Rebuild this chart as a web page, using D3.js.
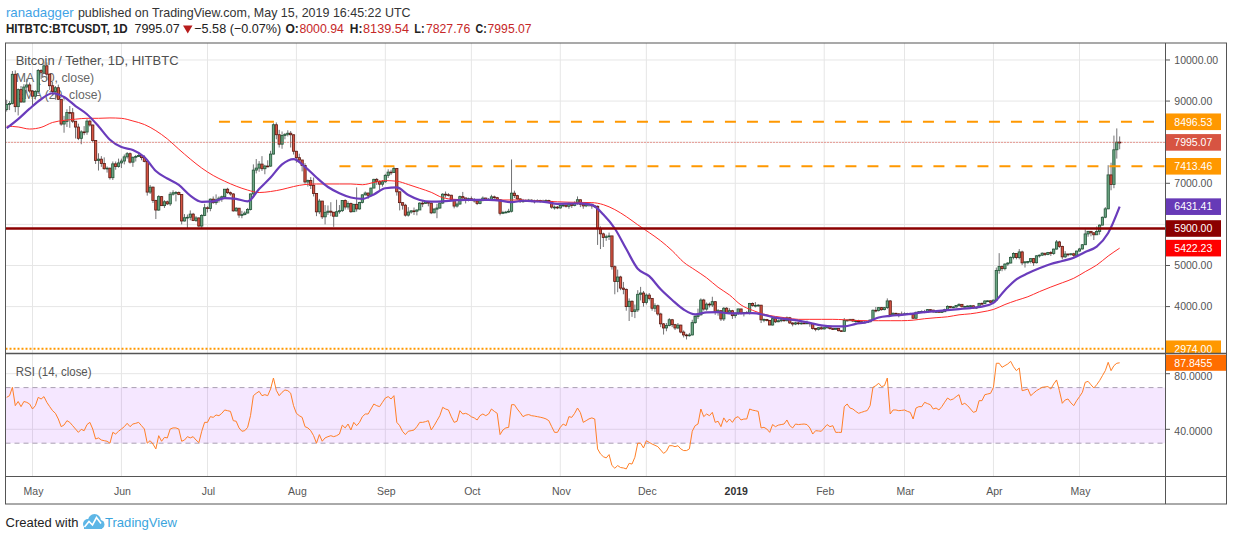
<!DOCTYPE html>
<html>
<head>
  <meta charset="utf-8">
  <title>Bitcoin / Tether, 1D, HITBTC</title>
  <script type="text/javascript" src="https://d3js.org/d3.v7.min.js"></script>
  <style>
    body { margin: 0; background: #ffffff; }
    svg { display: block; font-family: "Liberation Sans", Arial, sans-serif; }
  </style>
</head>

<body>
  <script>
    // ---- values ----
    var startDay = "2018-04-22";
    var firstOpen = 8795;

    // daily closes, 2018-04-22 .. 2019-05-15 (open of a day = close of the day before)
    var closes = [
      8917, 8940, 9652, 8864, 9279, 8978, 9342, 9392, 9244,
      9119, 9235, 9743, 9700, 9858, 9654, 9373, 9234, 9325, 9043, 8441, 8504, 8723, 8716, 8510, 8368, 8094, 8250, 8247, 8513, 8418, 8041, 7557, 7587, 7480, 7355, 7368, 7136, 7473, 7406, 7495,
      7541, 7643, 7720, 7514, 7633, 7653, 7678, 7624, 7531, 6786, 6906, 6582, 6349, 6675, 6456, 6550, 6499, 6734, 6769, 6776, 6729, 6083, 6162, 6173, 6250, 6093, 6157, 5960, 6218, 6404,
      6385, 6614, 6529, 6597, 6639, 6673, 6856, 6773, 6741, 6329, 6394, 6228, 6238, 6276, 6360, 6741, 7321, 7370, 7467, 7354, 7419, 7418, 7711, 8424, 8181, 7951, 8165, 8192, 8218, 8180, 7780,
      7624, 7567, 7434, 7032, 7069, 6951, 6753, 6305, 6568, 6184, 6295, 6322, 6297, 6199, 6308, 6334, 6580, 6423, 6506, 6308, 6488, 6376, 6534, 6719, 6763, 6707, 6884, 7096, 7047, 6978, 7037,
      7193, 7272, 7260, 7361, 6792, 6529, 6467, 6225, 6300, 6329, 6321, 6351, 6517, 6512, 6543, 6517, 6281, 6371, 6398, 6519, 6734, 6721, 6710, 6595, 6446, 6495, 6676, 6644, 6601, 6625,
      6600, 6570, 6510, 6590, 6640, 6600, 6610, 6670, 6650, 6600, 6270, 6290, 6300, 6320, 6760, 6700, 6620, 6560, 6570, 6580, 6590, 6570, 6560, 6580, 6560, 6570, 6580, 6560, 6420, 6420, 6400,
      6460, 6470, 6440, 6500, 6460, 6510, 6600, 6490, 6450, 6480, 6490, 6450, 6440, 5900, 5770, 5680, 5700, 5720, 4970, 4610, 4720, 4450, 4420, 4000, 4130, 3880, 3920, 4300, 4330, 4100,
      4280, 4200, 3960, 4020, 3820, 3580, 3480, 3540, 3680, 3560, 3480, 3550, 3380, 3310, 3290, 3310, 3610, 3760, 3800, 4160, 3940, 4060, 4040, 4120, 3870, 3900, 3700, 3960, 3860, 3900, 3780,
      3843, 3943, 3836, 3857, 3845, 4076, 4025, 4030, 4035, 3678, 3687, 3661, 3552, 3706, 3630, 3655, 3678, 3657, 3728, 3601, 3576, 3604, 3585, 3600, 3599, 3603, 3583, 3470, 3448, 3486, 3457,
      3487, 3521, 3464, 3459, 3466, 3413, 3399, 3666, 3671, 3690, 3648, 3653, 3632, 3616, 3621, 3630, 3674, 3911, 3905, 3975, 3926, 3975, 4138, 3800, 3837, 3823, 3818, 3813,
      3824, 3833, 3807, 3717, 3861, 3876, 3883, 3868, 3926, 3915, 3873, 3880, 3875, 3875, 3923, 4006, 3982, 3992, 4028, 4055, 3996, 4005, 4015, 4020, 3964, 3985, 4079, 4077, 4138, 4140, 4105,
      4158, 4880, 4974, 4923, 5036, 5060, 5198, 5290, 5192, 5330, 5064, 5089, 5096, 5167, 5067, 5235, 5251, 5299, 5269, 5314, 5292, 5399, 5573, 5465, 5210, 5279, 5268, 5285, 5248, 5351,
      5402, 5505, 5768, 5831, 5795, 5747, 5830, 5982, 6174, 6378, 7204, 6972, 7815, 8001, 7995.07
    ];

    var highs = [
      9032, 9000, 9732, 9745, 9307, 9367, 9411, 9544, 9450,
      9255, 9267, 9780, 9775, 9964, 9941, 9653, 9470, 9365, 9400, 9043, 8640, 8800, 8880, 8829, 8510, 8450, 8290, 8390, 8560, 8550, 8430, 8040, 7730, 7660, 7630, 7410, 7380, 7530, 7530, 7600,
      7600, 7700, 7760, 7750, 7650, 7690, 7750, 7690, 7680, 7530, 6960, 6920, 6600, 6710, 6690, 6590, 6580, 6790, 6830, 6810, 6800, 6730, 6250, 6240, 6340, 6280, 6200, 6170, 6250, 6500,
      6440, 6630, 6680, 6730, 6680, 6700, 6860, 6890, 6800, 6760, 6420, 6400, 6330, 6320, 6400, 6750, 7460, 7590, 7540, 7660, 7450, 7560, 7790, 8460, 8480, 8300, 8260, 8220, 8290, 8270, 8190,
      7760, 7720, 7560, 7490, 7090, 7150, 7140, 6760, 6620, 6570, 6470, 6460, 6540, 6290, 6600, 6470, 6590, 6610, 6560, 6530, 6500, 6900, 6550, 6730, 6800, 6770, 6890, 7110, 7130, 7070, 7080,
      7230, 7340, 7330, 7400, 7370, 6800, 6520, 6500, 6420, 6350, 6410, 6360, 6540, 6590, 6570, 6540, 6530, 6400, 6500, 6530, 6760, 6800, 6760, 6720, 6590, 6540, 6700, 6790, 6640, 6650,
      6680, 6640, 6590, 6620, 6680, 6650, 6640, 6720, 6700, 6670, 6610, 6330, 6330, 6380, 7580, 6820, 6720, 6640, 6620, 6610, 6620, 6610, 6600, 6610, 6600, 6600, 6610, 6600, 6570, 6460, 6450,
      6480, 6520, 6490, 6540, 6510, 6560, 6680, 6600, 6500, 6510, 6520, 6500, 6470, 6460, 5950, 5800, 5750, 5800, 5720, 5000, 4900, 4750, 4600, 4440, 4200, 4150, 4050, 4400, 4480, 4380,
      4320, 4330, 4200, 4080, 4050, 3850, 3600, 3600, 3720, 3700, 3580, 3600, 3560, 3420, 3340, 3360, 3680, 3800, 3950, 4200, 4190, 4100, 4100, 4240, 4130, 3940, 3910, 3990, 3990, 3960, 3920,
      3850, 3950, 3945, 3870, 3890, 4090, 4100, 4110, 4060, 4040, 3710, 3700, 3670, 3720, 3730, 3690, 3700, 3690, 3760, 3750, 3620, 3630, 3630, 3620, 3620, 3660, 3620, 3580, 3480, 3500, 3520,
      3500, 3530, 3525, 3480, 3480, 3470, 3420, 3720, 3690, 3700, 3700, 3680, 3680, 3640, 3650, 3650, 3680, 3930, 3990, 3990, 3990, 3990, 4200, 4160, 3860, 3850, 3840, 3880,
      3860, 3850, 3850, 3830, 3880, 3890, 3910, 3920, 3940, 3930, 3920, 3900, 3890, 3910, 3950, 4030, 4010, 4010, 4040, 4080, 4060, 4020, 4030, 4040, 4030, 3990, 4090, 4100, 4150, 4160, 4150,
      4170, 4950, 5300, 5000, 5050, 5080, 5220, 5320, 5290, 5400, 5360, 5100, 5110, 5180, 5180, 5250, 5270, 5320, 5300, 5330, 5350, 5410, 5620, 5600, 5480, 5350, 5290, 5300, 5310, 5360,
      5430, 5520, 5880, 5840, 5840, 5810, 5950, 6000, 6190, 6420, 7440, 7500, 8160, 8335, 8139.54
    ];

    var lows = [
      8745, 8780, 8920, 8730, 8651, 8960, 8962, 9200, 9190,
      8891, 9037, 9178, 9533, 9700, 9508, 9270, 9142, 9034, 9028, 8400, 8230, 8370, 8350, 8465, 8090, 8050, 7950, 8170, 8180, 8380, 8000, 7470, 7310, 7400, 7330, 7260, 7090, 7080, 7330, 7380,
      7370, 7460, 7600, 7480, 7400, 7530, 7640, 7560, 7510, 6700, 6740, 6520, 6130, 6330, 6450, 6400, 6470, 6450, 6700, 6560, 6710, 6000, 6070, 5900, 6100, 6080, 6060, 5930, 5900, 6200,
      6290, 6320, 6500, 6480, 6530, 6550, 6640, 6740, 6700, 6310, 6310, 6160, 6150, 6220, 6270, 6340, 6680, 7240, 7280, 7300, 7220, 7390, 7400, 7700, 8070, 7870, 7840, 8070, 8140, 7870, 7700,
      7500, 7520, 7290, 6990, 6920, 6860, 6680, 6200, 6250, 6130, 6000, 6230, 6200, 5940, 6200, 6260, 6300, 6360, 6360, 6280, 6310, 6310, 6360, 6510, 6700, 6620, 6680, 6880, 6960, 6790, 6920,
      7010, 7130, 7200, 7250, 6700, 6340, 6360, 6190, 6190, 6260, 6230, 6220, 6350, 6420, 6500, 6440, 6250, 6270, 6150, 6380, 6500, 6650, 6680, 6580, 6390, 6410, 6480, 6620, 6510, 6560,
      6570, 6530, 6470, 6490, 6560, 6580, 6570, 6590, 6620, 6570, 6220, 6250, 6270, 6280, 6290, 6640, 6590, 6520, 6530, 6550, 6550, 6540, 6510, 6540, 6530, 6540, 6550, 6530, 6380, 6360, 6370,
      6380, 6420, 6410, 6380, 6400, 6440, 6480, 6420, 6380, 6420, 6430, 6380, 6400, 5500, 5400, 5450, 5600, 5620, 4900, 4300, 4350, 4400, 4300, 3900, 3650, 3750, 3720, 3870, 4150, 4000,
      4050, 4150, 3900, 3870, 3780, 3500, 3320, 3400, 3520, 3500, 3430, 3450, 3350, 3250, 3200, 3270, 3300, 3580, 3700, 3780, 3900, 3900, 3980, 3990, 3800, 3780, 3650, 3650, 3820, 3820, 3700,
      3720, 3800, 3810, 3760, 3830, 3810, 4000, 3980, 4000, 3600, 3620, 3640, 3550, 3540, 3600, 3620, 3620, 3630, 3640, 3580, 3520, 3550, 3550, 3560, 3580, 3570, 3510, 3440, 3400, 3420, 3440,
      3440, 3460, 3440, 3430, 3450, 3400, 3390, 3390, 3640, 3640, 3630, 3610, 3600, 3580, 3600, 3610, 3620, 3660, 3860, 3880, 3900, 3910, 3940, 3760, 3770, 3790, 3740, 3780,
      3800, 3810, 3790, 3700, 3700, 3840, 3860, 3840, 3860, 3880, 3850, 3850, 3860, 3860, 3870, 3920, 3960, 3960, 3970, 4000, 3980, 3980, 3990, 3990, 3950, 3940, 3980, 4040, 4060, 4110, 4090,
      4090, 4150, 4800, 4860, 4880, 4990, 5050, 5150, 5150, 5150, 5010, 4950, 5040, 5050, 4990, 5050, 5190, 5230, 5230, 5250, 5230, 5260, 5390, 5430, 5150, 5180, 5220, 5240, 5200, 5240,
      5340, 5390, 5500, 5700, 5710, 5620, 5760, 5750, 5980, 6150, 6370, 6830, 6880, 7600, 7827.76
    ];

    // RSI (14, close), one value per session
    var rsi14 = [
      63, 64.2, 70.2, 57, 60, 56.3, 60, 59.4, 58.2, 54.6,
      57, 63, 61.8, 63.5, 59.4, 56.3, 53.4, 51.5, 47.4, 41.9,
      43.1, 46.2, 45, 42.6, 40.2, 37.8, 40, 39, 43.4, 45,
      40.2, 33, 33.8, 32.3, 31.8, 31.4, 30, 37.8, 36.6, 38.6,
      40.2, 41.9, 44.3, 41.9, 43.8, 44.3, 45, 42.6, 40.2, 30,
      31.8, 29.4, 25.9, 35.4, 31.4, 34.2, 33.8, 40.2, 41, 41,
      40.2, 31.4, 32.3, 34.7, 33.8, 34.7, 32.3, 30.4, 38.6, 45,
      45, 49.1, 48.6, 50.3, 49.8, 51.5, 53.9, 53.4, 52.9, 46.2,
      45.8, 41, 38.6, 39, 41.4, 49.8, 64.2, 65.9, 67.3, 64.2,
      64.9, 64.2, 69, 76.9, 68, 64.2, 66.6, 68.3, 67.8, 66,
      57, 51.5, 49.8, 48.6, 41.9, 41, 39, 35.4, 30, 36.2,
      31.4, 33.8, 34.7, 35.4, 34.7, 35.4, 36.6, 43, 41, 43.8,
      39.5, 45, 42.6, 45, 49.1, 51, 51, 54.6, 58.2, 57,
      56.3, 59.4, 62.5, 63.5, 61.8, 64.2, 45, 42.6, 38.5, 36.2,
      38.6, 39, 39.5, 41.9, 45, 45, 45.5, 46.2, 39.5, 42.6,
      46.2, 49.8, 55.8, 54.6, 53.9, 49, 45, 45.8, 53.4, 51,
      51.5, 50.6, 49, 48.2, 46.7, 49.8, 51, 49.8, 51, 54.6,
      52.9, 51.5, 36.2, 39.5, 41, 41.4, 57.7, 57.7, 54.6, 52,
      49.1, 50.2, 50.6, 49.8, 49.5, 49.1, 48.7, 48.2, 47.5, 46.2,
      41.9, 37.8, 37.8, 41.4, 43.8, 42.6, 49.1, 48.6, 51.5, 55.3,
      52, 45, 46.2, 47.5, 48.2, 47.4, 25.9, 22.3, 20.3, 19.4,
      21.8, 14, 12, 13.9, 12.5, 12.2, 11.5, 15.5, 15, 19.9,
      30, 30, 26.6, 31.8, 30.6, 29.4, 28.5, 27.5, 25.1, 22.7,
      24.2, 28.2, 28.2, 27.5, 28.2, 25.9, 24.7, 24.7, 25.9, 38.6,
      42.6, 43.8, 54.6, 49.1, 51, 49.8, 52.2, 45, 45.8, 41.9,
      48.2, 45, 47.4, 45, 48.2, 49.1, 46.7, 47.4, 47.4, 54.6,
      53.8, 53.4, 52.9, 41, 41.4, 40.2, 37.8, 43.4, 41.9, 43,
      43.4, 43.8, 46.7, 42.6, 41, 43.8, 43.4, 43.6, 43.8, 43.4,
      41, 36.6, 39, 38.8, 38.6, 41, 43.4, 41.9, 42.6, 37.8,
      37.8, 37.8, 56.3, 58.2, 55.3, 54.6, 52.9, 51.5, 52.2, 52.9,
      53.5, 57, 70.2, 71.4, 73.1, 70.7, 71.4, 76.9, 51, 53.9,
      53.9, 53.4, 53.6, 53.9, 52.9, 52.2, 47.4, 55.3, 56.3, 56.3,
      59.4, 58.5, 57.7, 54.6, 55.3, 53.9, 56.3, 59.5, 62.5, 61.1,
      61.8, 63.5, 64.9, 57.7, 58.7, 57, 54.6, 52.2, 52.9, 60.6,
      60.6, 64.9, 65.4, 65.9, 70.2, 87.5, 87.5, 84.6, 85.8, 87,
      88.9, 85, 82.2, 84.1, 67.8, 68.3, 69, 64.2, 66, 67.8,
      69, 70.2, 70.5, 70.7, 69, 72.6, 75.5, 67.8, 58.7, 61.1,
      61.8, 59, 57, 60.6, 63.5, 66.6, 73.8, 74.5, 72, 69.7,
      72.1, 75, 78.6, 82.2, 88.2, 82.2, 85.8, 87.5, 87.8455
    ];

    // moving averages read every 4th session (first = 2018-04-22, last = 2019-05-15)
    var maStep = 4;
    var ema20 = [
      8340, 8560, 8815, 9045, 9190, 9100, 8880, 8680, 8390, 8060,
      7880, 7810, 7640, 7300, 7115, 6960, 6700, 6550, 6560, 6640,
      6620, 6560, 6860, 7140, 7460, 7590, 7400, 7140, 6910, 6760,
      6655, 6620, 6730, 6880, 6900, 6715, 6594, 6553, 6560, 6585,
      6594, 6594, 6594, 6580, 6540, 6575, 6560, 6540, 6500, 6505,
      6513, 6475, 6240, 5900, 5400, 4920, 4740, 4420, 4160, 3930,
      3810, 3860, 3865, 3837, 3837, 3840, 3800, 3730, 3695, 3660,
      3605, 3545, 3520, 3520, 3580, 3625, 3735, 3775, 3800, 3830,
      3865, 3890, 3915, 3940, 3965, 4000, 4090, 4400, 4665, 4810,
      4932, 5036, 5110, 5190, 5330, 5460, 5789, 6431.41
    ];
    var sma50 = [
      8390, 8370, 8320, 8360, 8480, 8530, 8560, 8581, 8581, 8590,
      8580, 8516, 8430, 8280, 8080, 7830, 7590, 7370, 7190, 7050,
      6930, 6835, 6775, 6800, 6850, 6920, 6970, 6983, 6983, 6983,
      6983, 6965, 7020, 7065, 7050, 6970, 6878, 6780, 6650, 6610,
      6600, 6594, 6594, 6594, 6594, 6590, 6575, 6560, 6550, 6540,
      6535, 6530, 6480, 6360, 6190, 5990, 5800, 5600, 5360, 5080,
      4890, 4700, 4470, 4282, 4040, 3910, 3815, 3760, 3722, 3690,
      3690, 3690, 3690, 3680, 3662, 3657, 3657, 3657, 3657, 3670,
      3705, 3730, 3752, 3800, 3825, 3870, 3930, 4050, 4150, 4240,
      4363, 4476, 4580, 4689, 4850, 5010, 5230, 5422.23
    ];

    // horizontal levels drawn by the author (null start = across the whole chart)
    var levelValues = [8496.53, 7413.46, 5900, 2974];
    var levelFrom = ["2018-07-05", "2018-08-16", null, null];

    var priceTicks = [4000, 5000, 6000, 7000, 8000, 9000, 10000];
    var rsiTicks = [40, 80];
    var rsiBand = [30, 70];

    var headerKeys = ["O:", "H:", "L:", "C:"];
    var headerVals = ["8000.94", "8139.54", "7827.76", "7995.07"];

    // ---- layout ----
    var W = 1234, H = 541;
    var L = 5.5, R = 1165.5, AR = 1226.5;
    var T = 43, MB = 353.5, RB = 476.5, B = 504;

    var parse = d3.utcParse("%Y-%m-%d");
    var day0 = parse(startDay);
    function dayAt(i) { return d3.utcDay.offset(day0, i); }

    var x = d3.scaleUtc()
      .domain([parse("2018-05-01"), parse("2019-05-01")])
      .range([32.5, 1079.5]);
    var y = d3.scaleLinear().domain([4000, 10000]).range([306.6, 59.97]);
    var ry = d3.scaleLinear().domain([30, 70]).range([443.2, 387.6]);

    var svg = d3.select("body").append("svg")
      .attr("width", W)
      .attr("height", H);
    var defs = svg.append("defs");
    function clip(id, x0, y0, w, h) {
      defs.append("clipPath").attr("id", id).append("rect")
        .attr("x", x0).attr("y", y0).attr("width", w).attr("height", h);
    }
    clip("cMain", L, T, R - L, MB - T);
    clip("cRsi", L, MB, R - L, RB - MB);
    clip("cAxMain", R, T, AR - R, MB - T);
    clip("cAxRsi", R, MB, AR - R, RB - MB);

    // text squeezed horizontally to the width it takes in the picture
    function txt(g, s, x0, y0, len, opts) {
      opts = opts || {};
      var t = g.append("text").attr("x", 0).attr("y", 0).text(s)
        .attr("fill", opts.fill || "#333")
        .attr("font-size", opts.size || 13)
        .attr("font-weight", opts.bold ? "bold" : "normal");
      var w = t.node().getComputedTextLength() || len;
      t.attr("transform", "translate(" + x0 + "," + y0 + ") scale(" + (len / w) + ",1)");
      return t;
    }
    var head = svg.append("g");
    txt(head, "ranadagger", 5.9, 16.7, 68, { fill: "#3fa3e6" });
    txt(head, "published on TradingView.com, May 15, 2019 16:45:22 UTC", 77.9, 16.7, 333, { fill: "#333" });
    txt(head, "HITBTC:BTCUSDT, 1D", 5.9, 33.3, 122, { fill: "#222", bold: true });
    txt(head, headerVals[3], 134.4, 33.3, 45.4, { fill: "#222" });
    head.append("path").attr("d", "M183,25.6 L192.5,25.6 L187.75,33.4 Z").attr("fill", "#b71c1c");
    txt(head, "\u22125.58 (\u22120.07%)", 194.2, 33.3, 87.2, { fill: "#222" });
    var keyPos = [[285.4, 13.4, 299.4, 44.5], [349.8, 12.6, 363, 46], [414.2, 10.4, 425.9, 44.4], [475.5, 11.2, 487.6, 44]];
    headerKeys.forEach(function(k, i) {
      var p = keyPos[i];
      txt(head, k, p[0], 33.3, p[1], { fill: "#222", bold: true });
      txt(head, headerVals[i], p[2], 33.3, p[3], { fill: "#c62828" });
    });

    // grid
    var months = d3.utcMonth.range(parse("2018-05-01"), parse("2019-05-02"));
    var grid = svg.append("g").attr("stroke", "#e6e6e6").attr("stroke-width", 1);
    months.forEach(function(m) {
      grid.append("line").attr("x1", x(m)).attr("x2", x(m)).attr("y1", T).attr("y2", RB);
    });
    priceTicks.forEach(function(v) {
      grid.append("line").attr("x1", L).attr("x2", R).attr("y1", y(v)).attr("y2", y(v));
    });
    rsiTicks.forEach(function(v) {
      grid.append("line").attr("x1", L).attr("x2", R).attr("y1", ry(v)).attr("y2", ry(v));
    });

    // legend
    var leg = svg.append("g");
    txt(leg, "Bitcoin / Tether, 1D, HITBTC", 15.7, 64.5, 163, { fill: "#4f4f4f" });
    txt(leg, "MA (50, close)", 15.7, 82, 78.6, { fill: "#666" });
    txt(leg, "EMA (20, close)", 15.7, 99, 86, { fill: "#666" });

    // candles
    var main = svg.append("g").attr("clip-path", "url(#cMain)");
    var bars = closes.map(function(c, i) {
      var o = i ? closes[i - 1] : firstOpen;
      return {
        d: dayAt(i), o: o, c: c,
        h: Math.max(highs[i], o, c),
        l: Math.min(lows[i], o, c)
      };
    });
    main.append("g").attr("stroke", "#737375").attr("stroke-width", 1)
      .selectAll("line").data(bars).join("line")
      .attr("x1", function(b) { return x(b.d); })
      .attr("x2", function(b) { return x(b.d); })
      .attr("y1", function(b) { return y(b.h); })
      .attr("y2", function(b) { return y(b.l); });
    main.append("g").selectAll("rect").data(bars).join("rect")
      .attr("x", function(b) { return x(b.d) - 1.15; })
      .attr("width", 2.3)
      .attr("y", function(b) { return y(Math.max(b.o, b.c)); })
      .attr("height", function(b) { return Math.max(0.8, Math.abs(y(b.o) - y(b.c))); })
      .attr("fill", function(b) { return b.c >= b.o ? "#6ba583" : "#d75442"; })
      .attr("stroke", function(b) { return b.c >= b.o ? "#225437" : "#5b1a13"; })
      .attr("stroke-width", 0.8);

    // moving averages
    var maLine = d3.line()
      .x(function(v, k) { return x(dayAt(k * maStep)); })
      .y(function(v) { return y(v); })
      .curve(d3.curveMonotoneX);
    main.append("path").attr("d", maLine(sma50))
      .attr("fill", "none").attr("stroke", "#ff2a2a").attr("stroke-width", 1);
    main.append("path").attr("d", maLine(ema20))
      .attr("fill", "none").attr("stroke", "#6a3cbc").attr("stroke-width", 2.2);

    // last price line
    var lastClose = closes[closes.length - 1];
    main.append("line").attr("x1", L).attr("x2", R)
      .attr("y1", y(lastClose)).attr("y2", y(lastClose))
      .attr("stroke", "#e0473a").attr("stroke-width", 1).attr("stroke-dasharray", "1,2");

    // author levels
    var levelStyle = [
      { c: "#ff9800", w: 2, dash: "11,11" },
      { c: "#ff9800", w: 2, dash: "11,11" },
      { c: "#8b0000", w: 2.6, dash: null },
      { c: "#ff9800", w: 2.2, dash: "2,2" }
    ];
    levelValues.forEach(function(v, i) {
      var s = levelStyle[i];
      var ln = main.append("line")
        .attr("x1", levelFrom[i] ? x(parse(levelFrom[i])) : L)
        .attr("x2", R)
        .attr("y1", y(v)).attr("y2", y(v))
        .attr("stroke", s.c).attr("stroke-width", s.w);
      if (s.dash) ln.attr("stroke-dasharray", s.dash);
    });

    // RSI panel
    var rp = svg.append("g").attr("clip-path", "url(#cRsi)");
    rp.append("rect").attr("x", L).attr("width", R - L)
      .attr("y", ry(rsiBand[1])).attr("height", ry(rsiBand[0]) - ry(rsiBand[1]))
      .attr("fill", "rgba(153,21,255,0.1)");
    rsiBand.forEach(function(v) {
      rp.append("line").attr("x1", L).attr("x2", R).attr("y1", ry(v)).attr("y2", ry(v))
        .attr("stroke", "#a99fb2").attr("stroke-width", 1).attr("stroke-dasharray", "5,4");
    });
    rp.append("path")
      .attr("d", d3.line()
        .x(function(v, i) { return x(dayAt(i)); })
        .y(function(v) { return ry(v); })(rsi14))
      .attr("fill", "none").attr("stroke", "#ff7f27").attr("stroke-width", 1);
    txt(svg, "RSI (14, close)", 15.7, 375.7, 76, { fill: "#555" });

    // value badges (main panel) - axis labels that would sit under a badge are left out
    var badgeMain = [
      [levelValues[0], "#ff9800"], [lastClose, "#d75442"], [levelValues[1], "#ff9800"],
      [ema20[ema20.length - 1], "#673ab7"], [levelValues[2], "#8b0000"],
      [sma50[sma50.length - 1], "#ff0000"], [levelValues[3], "#ff9800"]
    ];

    // price axis
    var ax = svg.append("g").attr("font-size", 10.5);
    priceTicks.forEach(function(v) {
      ax.append("line").attr("x1", R).attr("x2", R + 4.5).attr("y1", y(v)).attr("y2", y(v)).attr("stroke", "#555");
      var hidden = badgeMain.some(function(b) { return Math.abs(y(b[0]) - y(v)) < 14; });
      if (!hidden) {
        ax.append("text").attr("x", 1174.3).attr("y", y(v) + 3.8).attr("fill", "#555").text(d3.format(".2f")(v));
      }
    });
    rsiTicks.forEach(function(v) {
      ax.append("line").attr("x1", R).attr("x2", R + 4.5).attr("y1", ry(v)).attr("y2", ry(v)).attr("stroke", "#555");
      ax.append("text").attr("x", 1174.3).attr("y", ry(v) + 5.8).attr("fill", "#555").text(d3.format(".4f")(v));
    });

    var bg = svg.append("g").attr("clip-path", "url(#cAxMain)").attr("font-size", 10.5);
    badgeMain.forEach(function(b) {
      var cy = y(b[0]);
      bg.append("rect").attr("x", R + 0.5).attr("y", cy - 8.3).attr("width", 55).attr("height", 16.6).attr("fill", b[1]);
      bg.append("text").attr("x", 1174.3).attr("y", cy + 3.8).attr("fill", "#fff").text(d3.format(".2f")(b[0]));
    });
    var bgr = svg.append("g").attr("clip-path", "url(#cAxRsi)").attr("font-size", 10.5);
    var lastRsi = rsi14[rsi14.length - 1];
    bgr.append("rect").attr("x", R + 0.5).attr("y", ry(lastRsi) - 8).attr("width", AR - R).attr("height", 16).attr("fill", "#ff6d00");
    bgr.append("text").attr("x", 1174.3).attr("y", ry(lastRsi) + 3.8).attr("fill", "#fff").text(d3.format(".4f")(lastRsi));

    // time axis
    var ta = svg.append("g").attr("font-size", 10.5).attr("text-anchor", "middle");
    months.forEach(function(m) {
      var isYear = m.getUTCMonth() === 0;
      ta.append("text").attr("x", x(m) + 1).attr("y", 495)
        .attr("fill", isYear ? "#333" : "#555")
        .attr("font-weight", isYear ? "bold" : "normal")
        .text(isYear ? d3.utcFormat("%Y")(m) : d3.utcFormat("%b")(m));
    });

    // frame and separators
    var fr = svg.append("g").attr("stroke", "#555").attr("stroke-width", 1).attr("fill", "none");
    fr.append("rect").attr("x", L).attr("y", T).attr("width", AR - L).attr("height", B - T);
    fr.append("line").attr("x1", L).attr("x2", AR).attr("y1", MB).attr("y2", MB).attr("stroke-width", 1.4);
    fr.append("line").attr("x1", L).attr("x2", AR).attr("y1", RB).attr("y2", RB);
    fr.append("line").attr("x1", R).attr("x2", R).attr("y1", T).attr("y2", B);

    // footer
    var ft = svg.append("g");
    txt(ft, "Created with", 5.5, 527, 73, { fill: "#222", size: 12.5 });
    var logo = ft.append("g");
    logo.append("circle").attr("cx", 88).attr("cy", 524).attr("r", 5).attr("fill", "#5db6e6");
    logo.append("circle").attr("cx", 94.5).attr("cy", 520.5).attr("r", 6.5).attr("fill", "#5db6e6");
    logo.append("circle").attr("cx", 100).attr("cy", 524.5).attr("r", 4.5).attr("fill", "#5db6e6");
    logo.append("rect").attr("x", 84).attr("y", 524).attr("width", 18).attr("height", 5).attr("fill", "#5db6e6");
    logo.append("path").attr("d", "M84.5,527 L89,521.5 L92.5,525 L96.5,517.5 L101,523.5")
      .attr("fill", "none").attr("stroke", "#fff").attr("stroke-width", 1.6);
    txt(ft, "TradingView", 105, 527, 72, { fill: "#3ba4dd", size: 12.5 });
  </script>
</body>
</html>
